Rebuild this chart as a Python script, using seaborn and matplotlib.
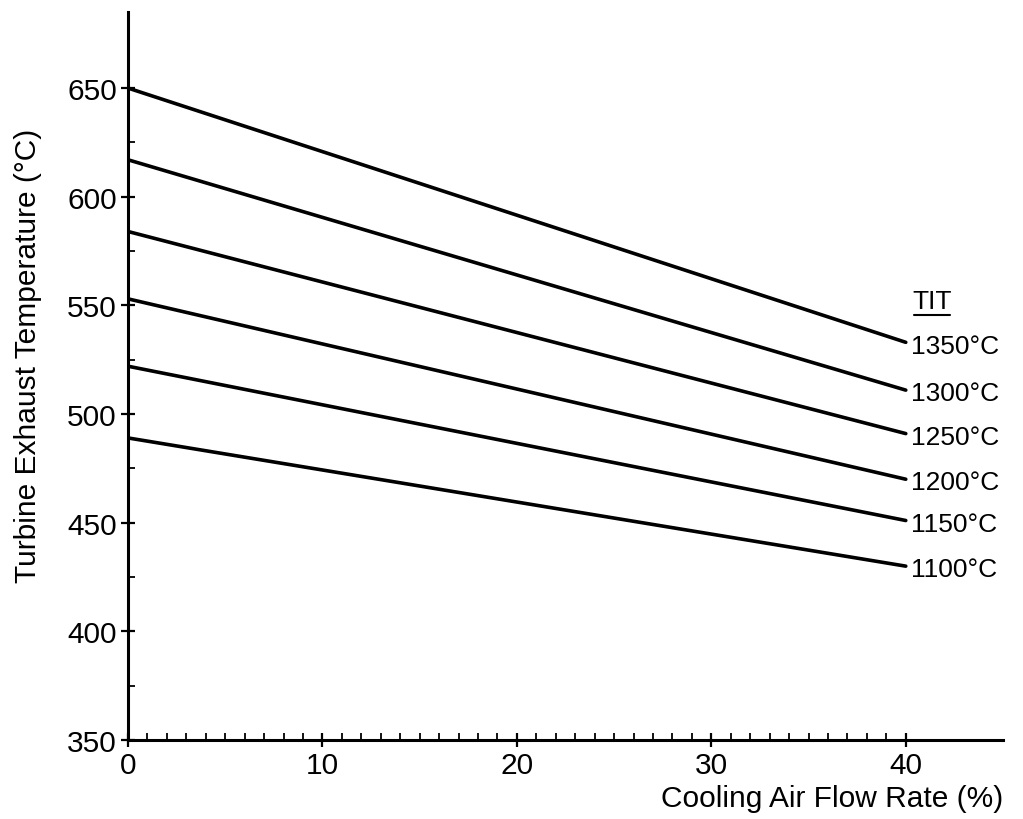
import numpy as np
import pandas as pd
import matplotlib
matplotlib.use("Agg")
import matplotlib.pyplot as plt
import seaborn as sns
from matplotlib.ticker import FixedLocator

sns.set_theme(style="ticks")
plt.rcParams['font.family'] = ['Liberation Sans', 'DejaVu Sans']

# Data
tit_labels = ["1350°C", "1300°C", "1250°C", "1200°C", "1150°C", "1100°C"]
cooling_flow = [0, 40]
temp_1350 = [650, 533]
temp_1300 = [617, 511]
temp_1250 = [584, 491]
temp_1200 = [553, 470]
temp_1150 = [522, 451]
temp_1100 = [489, 430]
series = [temp_1350, temp_1300, temp_1250, temp_1200, temp_1150, temp_1100]

x_ticks = [0, 10, 20, 30, 40]
y_ticks = [350, 400, 450, 500, 550, 600, 650]

rows = []
for lab, vals in zip(tit_labels, series):
    for x, y in zip(cooling_flow, vals):
        rows.append({"flow": x, "temp": y, "TIT": lab})
df = pd.DataFrame(rows)

fig = plt.figure(figsize=(10.23, 8.2), dpi=100)
ax = fig.add_axes([128/1023, 79/820, 875/1023, 728/820])

sns.lineplot(data=df, x="flow", y="temp", hue="TIT", palette=["black"]*6,
             linewidth=2.6, legend=False, ax=ax)

ax.set_xlim(0, 45)
ax.set_ylim(350, 685)
sns.despine(ax=ax)
for s in ["left", "bottom"]:
    ax.spines[s].set_linewidth(2.2)
    ax.spines[s].set_color("black")

ax.set_xticks(x_ticks)
ax.set_yticks(y_ticks)
ax.xaxis.set_minor_locator(FixedLocator([v for v in range(1, 40) if v % 10 != 0]))
ax.yaxis.set_minor_locator(FixedLocator([375, 425, 475, 525, 575, 625]))
ax.tick_params(axis="both", which="major", direction="inout", length=10, width=1.6,
               labelsize=21.5, colors="black")
ax.tick_params(axis="both", which="minor", direction="in", length=5, width=1.3, colors="black")
ax.tick_params(axis="x", which="major", pad=3)
ax.tick_params(axis="y", which="major", pad=3)

ax.set_ylabel("Turbine Exhaust Temperature (°C)", fontsize=21.5, color="black")
ax.yaxis.set_label_coords(-0.1143, 0.529)
ax.yaxis.label.set_verticalalignment("center")
ax.set_xlabel("Cooling Air Flow Rate (%)", fontsize=21.5, color="black")
ax.xaxis.set_label_coords(1.0, -0.061)
ax.xaxis.label.set_horizontalalignment("right")
ax.xaxis.label.set_verticalalignment("top")

for lab, vals in zip(tit_labels, series):
    ax.text(cooling_flow[-1] + 0.25, vals[-1] - 1.5, lab, fontsize=19, va="center", ha="left",
            color="black")

t = ax.text(41.35, 552, "TIT", fontsize=19, va="center", ha="center", color="black")
fig.canvas.draw()
bb = t.get_window_extent().transformed(ax.transData.inverted())
ax.plot([bb.x0 + 0.1, bb.x1 - 0.1], [bb.y0 - 1.0, bb.y0 - 1.0], color="black", lw=1.5,
        clip_on=False)

fig.savefig("out.png", dpi=100, facecolor="white")
